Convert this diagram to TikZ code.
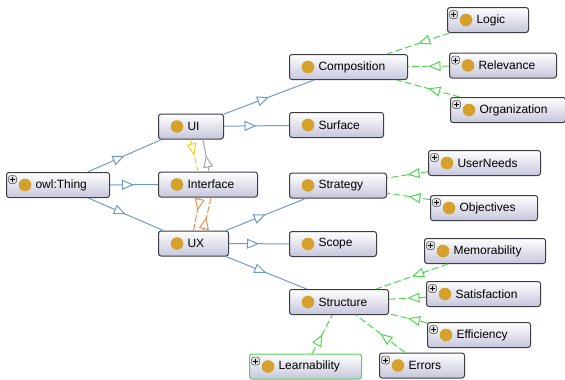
\documentclass[tikz,border=0pt]{standalone}
\usepackage{fontspec}
\setmainfont{Liberation Sans}
\usetikzlibrary{arrows.meta,decorations.markings}

\definecolor{isa}{HTML}{6E9BC8}
\definecolor{part}{HTML}{4FD84F}
\definecolor{boxline}{HTML}{3C3C44}
\definecolor{boxfill}{HTML}{C6C6DD}
\definecolor{bead}{HTML}{D4A22C}
\definecolor{sunny}{HTML}{F2D02A}
\definecolor{rust}{HTML}{E0965A}

\tikzset{
  cls/.style={draw=boxline, line width=1pt, rounded corners=2.5pt,
    top color=white, bottom color=boxfill, minimum height=25pt,
    inner xsep=0pt, text width=#1, align=left, anchor=west,
    font=\fontsize{12}{14}\selectfont,
    execute at begin node={\hspace*{29pt}},
    path picture={\fill[bead] ([xshift=18.5pt]path picture bounding box.west) circle (6.3pt);}},
  more/.style={path picture={
    \fill[bead] ([xshift=18.5pt]path picture bounding box.west) circle (6.3pt);
    \draw[gray!60!black, fill=gray!25, line width=0.5pt]
      ([xshift=2pt,yshift=-3pt]path picture bounding box.north west) rectangle ++(8pt,-8pt);
    \draw[black, line width=0.7pt]
      ([xshift=3.5pt,yshift=-7pt]path picture bounding box.north west) -- ++(5pt,0pt)
      ([xshift=6pt,yshift=-4.5pt]path picture bounding box.north west) -- ++(0pt,-5pt);}},
  tri/.style={postaction={decorate}, decoration={markings,
    mark=at position #1 with {\arrow{Triangle[open,fill=white,length=12pt,width=10pt]}}}},
  tri/.default=0.5,
  isaline/.style={isa, line width=1pt, tri},
  partline/.style={part, line width=1pt, dash pattern=on 7pt off 3pt, tri},
}

\begin{document}
\begin{tikzpicture}[x=1pt,y=-1pt]
\useasboundingbox (0,0) rectangle (565,380);

% classes
\node[cls=103pt, more] (thing) at (6,185) {owl:Thing};
\node[cls=65pt] (ui) at (158,126.5) {UI};
\node[cls=99pt] (iface) at (158,184.5) {Interface};
\node[cls=70pt] (ux) at (158,243.5) {UX};
\node[cls=118pt] (comp) at (289,67) {Composition};
\node[cls=94pt] (surf) at (289,125) {Surface};
\node[cls=97pt] (strat) at (289,185.5) {Strategy};
\node[cls=87pt] (scope) at (289,244) {Scope};
\node[cls=99pt] (struct) at (289,302) {Structure};
\node[cls=81pt, more] (logic) at (447,20) {Logic};
\node[cls=107pt, more] (relev) at (449,65.5) {Relevance};
\node[cls=115pt, more] (organ) at (450,110) {Organization};
\node[cls=112pt, more] (needs) at (428,163) {UserNeeds};
\node[cls=107pt, more] (objs) at (430,208) {Objectives};
\node[cls=121pt, more] (memo) at (424,251) {Memorability};
\node[cls=114pt, more] (satis) at (426,294) {Satisfaction};
\node[cls=103pt, more] (effic) at (427,335) {Efficiency};
\node[cls=85pt, more] (errs) at (379,365.5) {Errors};
\node[cls=112pt, more, draw=part] (learn) at (249,366.5) {Learnability};

% subclass links
\foreach \a/\b in {thing/ui, thing/iface, thing/ux, ui/comp, ui/surf, ux/strat, ux/scope, ux/struct}
  \draw[isaline] (\a) -- (\b);

% part links
\foreach \a/\b in {logic/comp, relev/comp, organ/comp, needs/strat, objs/strat,
                   memo/struct, satis/struct, effic/struct, errs/struct, learn/struct}
  \draw[partline] (\a) -- (\b);

% links between UI, Interface and UX
\draw[sunny, line width=1pt, dash pattern=on 7pt off 2pt, tri]
  ([xshift=-0.5pt]ui.south) -- ([xshift=-10pt]iface.north);
\draw[gray!70, line width=1pt, tri] ([xshift=1pt]iface.north) -- ([xshift=12pt]ui.south);
\draw[rust, line width=1pt, dash pattern=on 7pt off 2pt, tri=0.4]
  ([xshift=-8pt]iface.south) -- (ux.north);
\draw[rust, line width=1pt, dash pattern=on 7pt off 2pt, tri=0.4]
  ([xshift=10pt]ux.north) -- ([xshift=3pt]iface.south);
\end{tikzpicture}
\end{document}
